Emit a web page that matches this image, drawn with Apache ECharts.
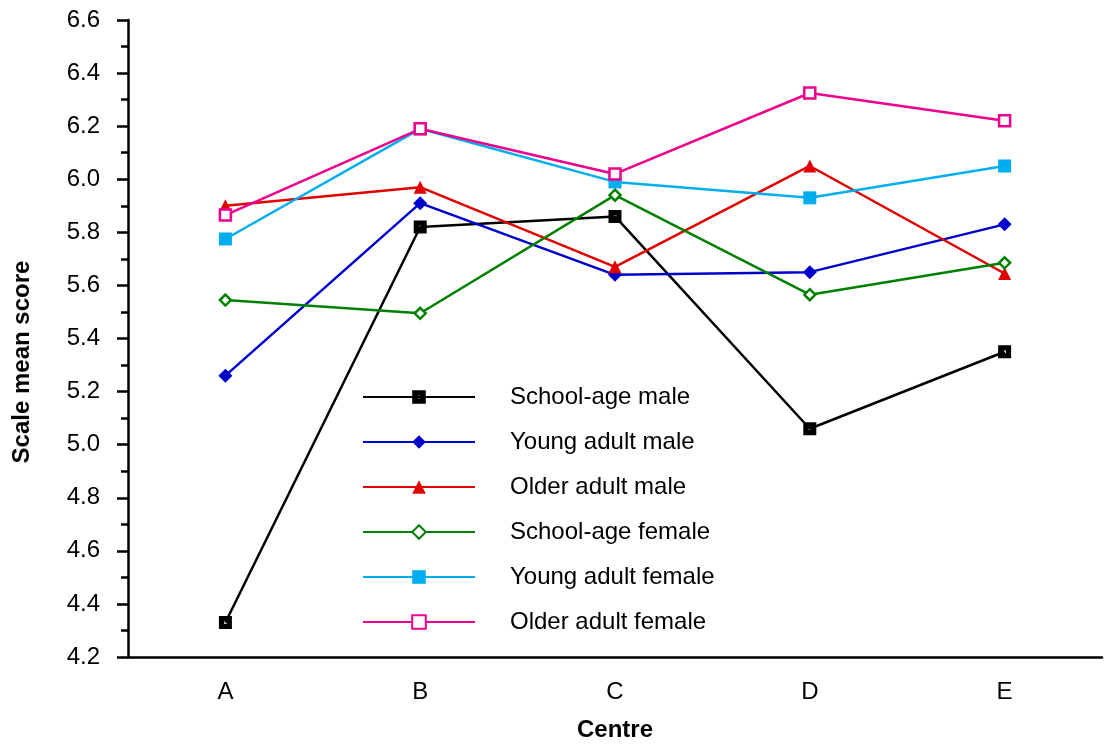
<!DOCTYPE html>
<html>
<head>
<meta charset="utf-8">
<script src="https://cdn.jsdelivr.net/npm/echarts@6/dist/echarts.min.js"></script>
<style>html,body{margin:0;padding:0;background:#fff}#c{width:1104px;height:747px}</style>
</head>
<body>
<div id="c"></div>
<script>
const categories = ['A', 'B', 'C', 'D', 'E'];
const seriesNames = ['School-age male', 'Young adult male', 'Older adult male', 'School-age female', 'Young adult female', 'Older adult female'];
const schoolAgeMale = [4.33, 5.82, 5.86, 5.06, 5.35];
const youngAdultMale = [5.26, 5.91, 5.64, 5.65, 5.83];
const olderAdultMale = [5.90, 5.97, 5.67, 6.05, 5.645];
const schoolAgeFemale = [5.545, 5.495, 5.94, 5.565, 5.685];
const youngAdultFemale = [5.775, 6.19, 5.99, 5.93, 6.05];
const olderAdultFemale = [5.865, 6.19, 6.02, 6.325, 6.22];
const yTicks = { min: 4.2, max: 6.6, step: 0.2 };

const FONT = "'Liberation Sans', Arial, sans-serif";
const holedSquare = 'path://M0,0L10,0L10,10L0,10Z M4,4L4,6L6,6L6,4Z';

function mk(name, data, color, symbol, size, hollow) {
  return {
    name: name, type: 'line', data: data,
    symbol: symbol, symbolSize: size,
    lineStyle: { color: color, width: 2.5 },
    itemStyle: hollow ? { color: '#ffffff', borderColor: color, borderWidth: 2.5 } : { color: color },
    emphasis: { disabled: true },
    animation: false, z: 3
  };
}

const chart = echarts.init(document.getElementById('c'), null, { renderer: 'canvas' });
chart.setOption({
  backgroundColor: '#ffffff',
  animation: false,
  textStyle: { fontFamily: FONT },
  grid: { left: 128, right: 2, top: 20, bottom: 82, containLabel: false },
  legend: {
    orient: 'vertical', left: 357, top: 380,
    itemWidth: 112, itemHeight: 17, itemGap: 21,
    textStyle: { fontFamily: FONT, fontSize: 24, color: '#000', lineHeight: 24, padding: [0, 0, 0, 30] },
    data: seriesNames
  },
  xAxis: {
    type: 'category', data: categories, boundaryGap: true,
    name: 'Centre', nameLocation: 'middle', nameGap: 61,
    nameTextStyle: { fontFamily: FONT, fontSize: 24, fontWeight: 'bold', color: '#000' },
    axisLine: { lineStyle: { color: '#000', width: 2.5 } },
    axisTick: { alignWithLabel: true, length: 10, lineStyle: { color: '#000', width: 2.5 } },
    axisLabel: { fontFamily: FONT, fontSize: 24, color: '#000', margin: 23 },
    splitLine: { show: false }
  },
  yAxis: {
    type: 'value', min: yTicks.min, max: yTicks.max, interval: yTicks.step,
    axisLine: { show: true, lineStyle: { color: '#000', width: 2.5 } },
    axisTick: { show: true, length: 11, lineStyle: { color: '#000', width: 2.5 } },
    minorTick: { show: true, splitNumber: 2, length: 7, lineStyle: { color: '#000', width: 2.5 } },
    axisLabel: { fontFamily: FONT, fontSize: 24, color: '#000', margin: 28, formatter: v => v.toFixed(1) },
    splitLine: { show: false }
  },
  graphic: [{
    type: 'text', x: 22, y: 362, rotation: Math.PI / 2,
    style: { text: 'Scale mean score', fontFamily: FONT, fontSize: 24, fontWeight: 'bold', fill: '#000', align: 'center', verticalAlign: 'middle' }
  }],
  series: [
    mk(seriesNames[0], schoolAgeMale, '#000000', holedSquare, 13, false),
    mk(seriesNames[1], youngAdultMale, '#0000cc', 'diamond', 14, false),
    mk(seriesNames[2], olderAdultMale, '#e00000', 'triangle', 13, false),
    mk(seriesNames[3], schoolAgeFemale, '#008000', 'diamond', 11, true),
    mk(seriesNames[4], youngAdultFemale, '#00aeef', 'rect', 13, false),
    mk(seriesNames[5], olderAdultFemale, '#ec008c', 'rect', 11, true)
  ]
});
</script>
</body>
</html>
